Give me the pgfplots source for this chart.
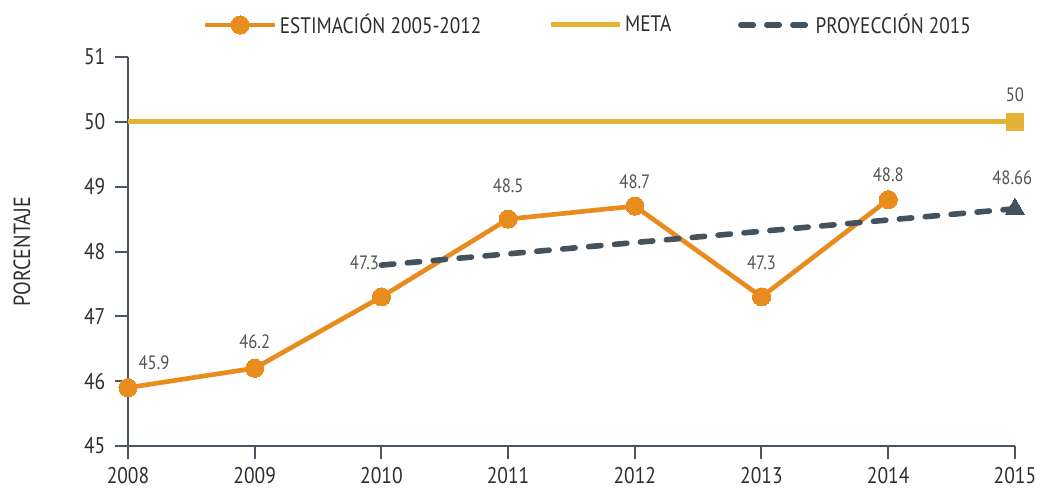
\documentclass[border=0pt]{standalone}
\usepackage{pgfplots}
\pgfplotsset{compat=1.18}
\usepackage{fontspec}
\setmainfont{PT Sans}[FakeStretch=0.86]
\definecolor{orangeS}{HTML}{E88C1E}
\definecolor{metaC}{HTML}{E6B236}
\definecolor{projC}{HTML}{44525E}
\definecolor{axisC}{HTML}{4A5561}
\definecolor{lblC}{HTML}{50564F}
\definecolor{txtC}{HTML}{2E2E2E}
\begin{document}
\begin{tikzpicture}
\begin{axis}[
  name=ax, scale only axis, width=665.25pt, height=291.75pt,
  xmin=2008, xmax=2015, ymin=45, ymax=51,
  axis lines*=left,
  xtick={2008,...,2015}, ytick={45,...,51},
  /pgf/number format/1000 sep=,
  /pgf/number format/assume math mode=true,
  tick align=outside, major tick length=9.5pt,
  axis line style={axisC, line width=1.5pt},
  tick style={axisC, line width=1.5pt},
  ticklabel style={font=\fontsize{17}{20}\selectfont, text=txtC},
  xticklabel style={yshift=-3pt},
  yticklabel style={xshift=-4pt},
  clip=false,
  legend columns=3,
  legend style={at={(0.519,1.0823)}, anchor=center, draw=none, fill=none,
    font=\fontsize{16.8}{20}\selectfont, text=txtC,
    /tikz/every even column/.append style={column sep=48pt}},
  legend image code/.code={\draw[mark repeat=2,mark phase=2,#1] plot coordinates {(0pt,0pt) (26pt,0pt) (52pt,0pt)};},
]
\addplot[orangeS, line width=3.5pt, line join=round, mark=*, mark size=6.8pt,
  mark options={solid, fill=orangeS, draw=orangeS, line width=0pt}]
  coordinates {(2008,45.9) (2009,46.2) (2010,47.3) (2011,48.5) (2012,48.7) (2013,47.3) (2014,48.8)};
\addlegendentry{ESTIMACIÓN 2005-2012}
\addplot[metaC, line width=3.75pt] coordinates {(2008,50) (2015,50)};
\addlegendentry{META}
\addplot[projC, line width=4.2pt, line cap=round, dash pattern=on 9.3pt off 10.2pt]
  coordinates {(2010,47.79) (2015,48.66)};
\addlegendentry{PROYECCIÓN 2015}
\addplot[forget plot, only marks, mark=square*, mark size=6.3pt,
  mark options={fill=metaC, draw=metaC, line width=0pt}] coordinates {(2015,50)};
\addplot[forget plot, only marks, mark=triangle*, mark size=8pt,
  mark options={fill=projC, draw=projC, line width=0pt}] coordinates {(2015,48.66)};
\begin{scope}[every node/.style={font=\fontsize{14.5}{17}\selectfont, text=lblC}]
\node at ([xshift=19.5pt, yshift=18.75pt]axis cs:2008,45.9) {45.9};
\node at ([yshift=19.5pt]axis cs:2009,46.2) {46.2};
\node at ([xshift=-12.75pt, yshift=25.5pt]axis cs:2010,47.3) {47.3};
\node at ([yshift=24.75pt]axis cs:2011,48.5) {48.5};
\node at ([yshift=18pt]axis cs:2012,48.7) {48.7};
\node at ([yshift=25.5pt]axis cs:2013,47.3) {47.3};
\node at ([yshift=18.75pt]axis cs:2014,48.8) {48.8};
\node at ([xshift=-2pt, yshift=23pt]axis cs:2015,48.66) {48.66};
\node at ([yshift=20.25pt]axis cs:2015,50) {50};
\end{scope}
\end{axis}
\node[rotate=90, font=\fontsize{17.5}{20}\selectfont, text=txtC] at ([xshift=-79.5pt]ax.west) {PORCENTAJE};
\pgfresetboundingbox
\useasboundingbox (-96pt,-32.25pt) rectangle (684pt,334.5pt);
\end{tikzpicture}
\end{document}
